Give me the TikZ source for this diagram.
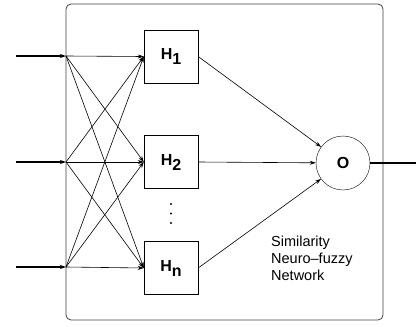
\documentclass[tikz,border=0pt]{standalone}
\usepackage{fontspec}
\setmainfont{Liberation Sans}
\usetikzlibrary{arrows.meta}
\tikzset{
  hbox/.style={draw,minimum width=54pt,minimum height=53pt,inner sep=0pt,font=\bfseries\fontsize{16}{19}\selectfont},
  link/.style={-{Stealth[length=6pt,width=4pt]},line width=0.6pt},
  inarrow/.style={-{Stealth[length=6pt,width=4pt]},line width=1.6pt},
}
\newcommand{\hsub}[2]{#1\raisebox{-5pt}{#2}}

\begin{document}
\begin{tikzpicture}[x=1pt,y=-1pt]
\useasboundingbox (0,0) rectangle (416,327);
\draw[rounded corners=5pt,line width=0.8pt,color=black!75] (66,4) rectangle (383,320);
\node[hbox] (h1) at (171,56.5) {\hsub{H}{1}};
\node[hbox] (h2) at (171,162) {\hsub{H}{2}};
\node[hbox] (h3) at (171,268) {\hsub{H}{n}};
\foreach \y in {204,213.5,223}
\fill (171,\y) circle (1.1pt);
\node[circle,draw,minimum size=54pt,inner sep=0pt,font=\bfseries\fontsize{16}{19}\selectfont] (o) at (343,163) {O};
\foreach \i/\y in {1/56,2/162,3/267} {
\coordinate (s\i) at (16,\y);
\coordinate (i\i) at (66,\y);
\draw[inarrow] (s\i) -- (i\i);
}
\foreach \i in {1,2,3}
\foreach \j in {1,2,3}
\draw[link] (i\i) -- (h\j.west);
\foreach \j in {1,2,3}
\draw[link] (h\j.east) -- (o);
\coordinate (out) at (416,163);
\draw[line width=1.6pt] (o.east) -- (out);
\node[anchor=north west,align=left,inner sep=0pt,font=\fontsize{14.5}{17}\selectfont] (lbl) at (271,236) {Similarity\\Neuro--fuzzy\\Network};
\end{tikzpicture}
\end{document}
